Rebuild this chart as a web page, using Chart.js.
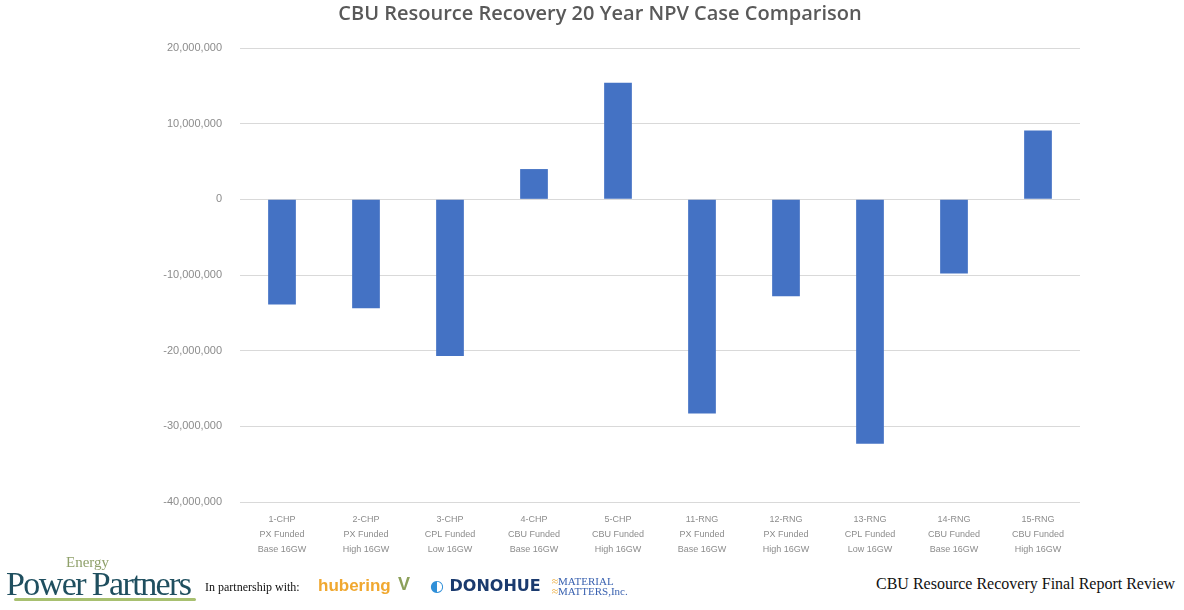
<!DOCTYPE html>
<html>
<head>
<meta charset="utf-8">
<script src="https://cdn.jsdelivr.net/npm/chart.js@4"></script>
<style>
  html, body { margin: 0; padding: 0; background: #fff; }
  #wrap { position: relative; width: 1184px; height: 610px; overflow: hidden; }
  #npv { position: absolute; left: 0; top: 0; }
  .foot { position: absolute; white-space: nowrap; }
</style>
</head>
<body>
<div id="wrap">
  <canvas id="npv" width="1184" height="560"></canvas>

  <!-- footer strip, logos done as text -->
  <div class="foot" style="left:66px;top:554px;font-family:'Liberation Serif',serif;font-size:15px;color:#8fa06a;">Energy</div>
  <div class="foot" style="left:6px;top:565px;font-family:'Liberation Serif',serif;font-size:34px;color:#1f4f5f;letter-spacing:-1.6px;">Power Partners</div>
  <div class="foot" style="left:14px;top:598px;width:182px;height:3px;background:#a8c070;border-radius:2px;"></div>
  <div class="foot" style="left:205px;top:580px;font-family:'Liberation Serif',serif;font-size:12px;color:#111;">In partnership with:</div>
  <div class="foot" style="left:318px;top:576px;font-family:'Liberation Sans',sans-serif;font-size:17px;font-weight:bold;color:#f0a830;">hubering</div>
  <div class="foot" style="left:398px;top:574px;font-family:'Liberation Sans',sans-serif;font-size:18px;font-weight:bold;color:#8ca05a;">V</div>
  <div class="foot" style="left:430px;top:576px;font-family:'DejaVu Sans',sans-serif;font-size:16px;font-weight:bold;color:#1a3a6e;"><span style="color:#2f8fd8">&#9680;</span> DONOHUE</div>
  <div class="foot" style="left:552px;top:576px;font-family:'Liberation Serif',serif;font-size:11px;line-height:10px;color:#3a62b0;"><span style="color:#e8a020">&#8776;</span>MATERIAL<br><span style="color:#e8a020">&#8776;</span>MATTERS,Inc.</div>
  <div class="foot" style="left:876px;top:575px;font-family:'Liberation Serif',serif;font-size:16px;color:#111;">CBU Resource Recovery Final Report Review</div>
</div>

<script>
// case labels, one array per label line
const caseNames  = ['1-CHP', '2-CHP', '3-CHP', '4-CHP', '5-CHP', '11-RNG', '12-RNG', '13-RNG', '14-RNG', '15-RNG'];
const funding    = ['PX Funded', 'PX Funded', 'CPL Funded', 'CBU Funded', 'CBU Funded',
                    'PX Funded', 'PX Funded', 'CPL Funded', 'CBU Funded', 'CBU Funded'];
const scenario   = ['Base 16GW', 'High 16GW', 'Low 16GW', 'Base 16GW', 'High 16GW',
                    'Base 16GW', 'High 16GW', 'Low 16GW', 'Base 16GW', 'High 16GW'];

// 20 year NPV ($)
const npvValues  = [-13900000, -14400000, -20700000, 4000000, 15400000,
                    -28300000, -12800000, -32300000, -9800000, 9100000];

const yTicks = [20000000, 10000000, 0, -10000000, -20000000, -30000000, -40000000];

const GREY = '#595959';
const BLUE = '#4472c4';

const labels = caseNames.map((c, i) => [c, funding[i], scenario[i]]);

new Chart(document.getElementById('npv'), {
  type: 'bar',
  data: {
    labels,
    datasets: [{ data: npvValues, backgroundColor: BLUE, borderWidth: 0, barPercentage: 0.33, categoryPercentage: 1 }]
  },
  options: {
    responsive: false,
    animation: false,
    // symmetric-ish padding so the title centres on the page
    layout: { padding: { left: 120, right: 104, top: 0, bottom: 0 } },
    plugins: {
      legend: { display: false },
      tooltip: { enabled: false },
      title: {
        display: true,
        text: 'CBU Resource Recovery 20 Year NPV Case Comparison',
        color: GREY,
        font: { family: "'Open Sans', sans-serif", size: 20, weight: '600' },
        padding: { top: 2, bottom: 22 }
      }
    },
    scales: {
      x: {
        grid: { display: false },
        border: { display: false },
        ticks: { color: '#8c8c8c', font: { family: "'Liberation Sans', sans-serif", size: 9, lineHeight: 1.65 }, maxRotation: 0, autoSkip: false, padding: 2 },
        afterFit: s => { s.height = 58; }
      },
      y: {
        min: -40000000,
        max: 20000000,
        afterBuildTicks: s => { s.ticks = yTicks.map(v => ({ value: v })); },
        grid: { color: '#d9d9d9', drawTicks: false },
        border: { display: false },
        ticks: {
          color: '#8c8c8c',
          font: { family: "'Liberation Sans', sans-serif", size: 11 },
          padding: 18,
          callback: v => v.toLocaleString('en-US')
        },
        afterFit: s => { s.width = 120; }
      }
    }
  }
});
</script>
</body>
</html>
